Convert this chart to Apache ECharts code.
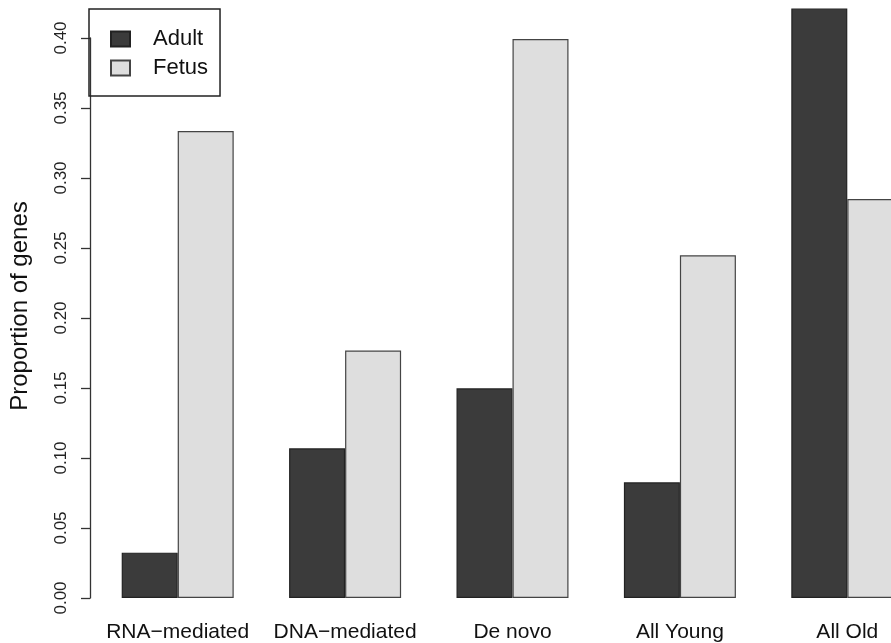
<!DOCTYPE html>
<html>
<head>
<meta charset="utf-8">
<script src="https://cdn.jsdelivr.net/npm/echarts@6/dist/echarts.min.js"></script>
<style>html,body{margin:0;padding:0;background:#fff;overflow:hidden;width:891px;height:643px;}#c{width:960px;height:643px;}</style>
</head>
<body>
<div id="c"></div>
<script>
const categories = ['RNA\u2212mediated', 'DNA\u2212mediated', 'De novo', 'All Young', 'All Old'];
const adult = [0.0324, 0.1069, 0.1498, 0.0826, 0.421];
const fetus = [0.3336, 0.1767, 0.3993, 0.2448, 0.285];
const yTicks = [0, 0.05, 0.10, 0.15, 0.20, 0.25, 0.30, 0.35, 0.40];

const chart = echarts.init(document.getElementById('c'), null, {renderer: 'canvas'});
const FONT = 'Liberation Sans, Arial, Helvetica, sans-serif';
chart.setOption({
  animation: false,
  backgroundColor: '#ffffff',
  grid: {left: 93, width: 838, top: 38, bottom: 45, containLabel: false},
  legend: {
    orient: 'vertical', left: 89, top: 9,
    data: ['Adult', 'Fetus'],
    itemWidth: 19, itemHeight: 15, itemGap: 7,
    padding: [19, 12, 17, 21],
    borderColor: '#222', borderWidth: 1.5,
    icon: 'rect',
    textStyle: {fontFamily: FONT, fontSize: 22, color: '#111', padding: [0, 0, 0, 18]}
  },
  xAxis: {
    type: 'category', data: categories,
    axisLine: {show: false}, axisTick: {show: false},
    axisLabel: {interval: 0, fontFamily: FONT, fontSize: 21, color: '#111', margin: 24}
  },
  yAxis: {
    type: 'value', min: 0, max: 0.40, interval: 0.05, offset: 4,
    name: 'Proportion of genes', nameLocation: 'middle', nameGap: 58,
    nameTextStyle: {fontFamily: FONT, fontSize: 24, color: '#111', padding: [0, 0, 0, 24]},
    axisLine: {show: true, lineStyle: {color: '#333', width: 1.3}},
    axisTick: {show: true, length: 9, lineStyle: {color: '#333', width: 1.3}},
    splitLine: {show: false},
    axisLabel: {
      rotate: 90, fontFamily: FONT, fontSize: 17, color: '#222', margin: 20,
      formatter: v => { const t = yTicks.find(x => Math.abs(x - v) < 1e-9); return (t !== undefined ? t : v).toFixed(2); }
    }
  },
  series: [
    {name: 'Adult', type: 'bar', data: adult, barWidth: 56, barGap: '0%', clip: false,
     itemStyle: {color: '#3b3b3b', borderColor: '#222', borderWidth: 1.2}},
    {name: 'Fetus', type: 'bar', data: fetus, barWidth: 56, barGap: '0%', clip: false,
     itemStyle: {color: '#dedede', borderColor: '#444', borderWidth: 1.2}}
  ]
});
</script>
</body>
</html>
